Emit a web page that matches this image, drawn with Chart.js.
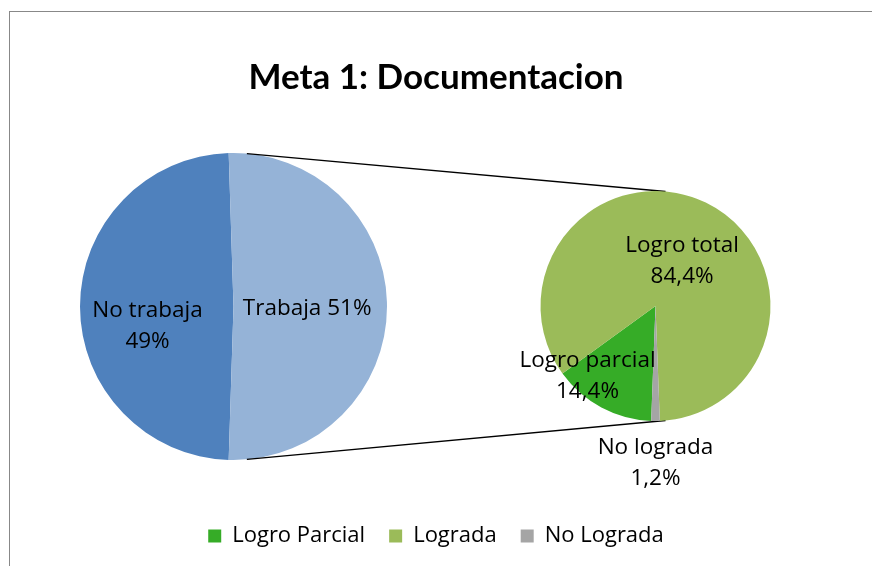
<!DOCTYPE html>
<html lang="es">
<head>
    <title>Meta 1: Documentacion</title>
    <meta charset="utf-8">
    <script src="https://cdn.jsdelivr.net/npm/chart.js"></script>
<style>
        body {
            margin: 0;
            background: white;
            overflow: hidden;
        }
        .frame {
            position: absolute;
            left: 9px;
            top: 11px;
            width: 900px;
            height: 600px;
            border: 1px solid #888888;
        }
        canvas {
            position: absolute;
            left: 0;
            top: 0;
        }
    </style>
</head>
<body>

    <div class="frame"></div>
    <canvas id="leftPie" width="872" height="566"></canvas>
    <canvas id="rightPie" width="872" height="566"></canvas>

    <script>
        // left pie: work status
        const leftNames = ['No trabaja', 'Trabaja'];
        const leftValues = [49, 51];
        const leftColors = ['#4F81BD', '#95B3D7'];

        // right pie: breakdown of "Trabaja"
        const rightLegend = ['Logro Parcial', 'Lograda', 'No Lograda'];
        const rightNames = ['Logro parcial', 'Logro total', 'No lograda'];
        const rightValues = [14.4, 84.4, 1.2];
        const rightColors = ['#36AC27', '#9BBB59', '#A5A5A5'];

        const TITLE_FONT = 'Lato, sans-serif';
        const FONT = '"Open Sans", sans-serif';

        function pct1(v) {
            return v.toFixed(1).replace('.', ',') + '%';
        }

        // puts the pie inside a given square of the canvas
        function placeArea(cx, cy, r) {
            return {
                id: 'placeArea',
                afterLayout(chart) {
                    Object.assign(chart.chartArea, {
                        left: cx - r, right: cx + r, top: cy - r, bottom: cy + r,
                        width: 2 * r, height: 2 * r
                    });
                }
            };
        }

        function sliceLabels(texts, places) {
            return {
                id: 'sliceLabels',
                afterDatasetsDraw(chart) {
                    const ctx = chart.ctx;
                    ctx.save();
                    ctx.font = '22.5px ' + FONT;
                    ctx.fillStyle = '#000';
                    ctx.textAlign = 'center';
                    ctx.textBaseline = 'middle';
                    chart.getDatasetMeta(0).data.forEach((arc, i) => {
                        const p = places[i];
                        const mid = (arc.startAngle + arc.endAngle) / 2;
                        const x = arc.x + Math.cos(mid) * arc.outerRadius * p.f + p.dx;
                        const y = arc.y + Math.sin(mid) * arc.outerRadius * p.f + p.dy;
                        const lines = texts[i];
                        lines.forEach((t, k) => {
                            ctx.fillText(t, x, y + (k - (lines.length - 1) / 2) * 31);
                        });
                    });
                    ctx.restore();
                }
            };
        }

        // start angles so the split slice faces right and "No lograda" sits at the bottom
        const leftRotation = 450 - (leftValues[0] + leftValues[1] / 2) * 3.6;
        const rightRotation = 540 - (rightValues[0] + rightValues[1] + rightValues[2] / 2) * 3.6;

        const leftChart = new Chart(document.getElementById('leftPie'), {
            type: 'pie',
            data: {
                labels: leftNames,
                datasets: [{
                    data: leftValues,
                    backgroundColor: leftColors,
                    borderWidth: 0
                }]
            },
            options: {
                responsive: false,
                animation: false,
                events: [],
                rotation: leftRotation,
                plugins: {
                    legend: { display: false },
                    tooltip: { enabled: false }
                }
            },
            plugins: [
                placeArea(233.5, 306.5, 153.5),
                sliceLabels(
                    [[leftNames[0], leftValues[0] + '%'], [leftNames[1] + ' ' + leftValues[1] + '%']],
                    [{ f: 0.56, dx: 0, dy: 20 }, { f: 0.48, dx: 0, dy: 2 }]
                )
            ]
        });

        const connectors = {
            id: 'connectors',
            beforeDatasetsDraw(chart) {
                const a = leftChart.getDatasetMeta(0).data[0];
                const b = chart.getDatasetMeta(0).data[0];
                const t = 5 * Math.PI / 180;
                const ctx = chart.ctx;
                ctx.save();
                ctx.strokeStyle = '#000';
                ctx.lineWidth = 1.4;
                [-1, 1].forEach(s => {
                    ctx.beginPath();
                    ctx.moveTo(a.x + a.outerRadius * Math.sin(t), a.y + s * a.outerRadius * Math.cos(t));
                    ctx.lineTo(b.x + b.outerRadius * Math.sin(t), b.y + s * b.outerRadius * Math.cos(t));
                    ctx.stroke();
                });
                ctx.restore();
            }
        };

        new Chart(document.getElementById('rightPie'), {
            type: 'pie',
            data: {
                labels: rightLegend,
                datasets: [{
                    data: rightValues,
                    backgroundColor: rightColors,
                    borderWidth: 0
                }]
            },
            options: {
                responsive: false,
                animation: false,
                events: [],
                rotation: rightRotation,
                plugins: {
                    title: {
                        display: true,
                        text: 'Meta 1: Documentacion',
                        color: '#000',
                        font: { family: TITLE_FONT, size: 35, weight: 'bold' },
                        padding: { top: 57, bottom: 20 }
                    },
                    legend: {
                        position: 'bottom',
                        labels: {
                            color: '#000',
                            font: { family: FONT, size: 22 },
                            boxWidth: 13,
                            boxHeight: 13,
                            padding: 24
                        }
                    },
                    tooltip: { enabled: false }
                },
                layout: { padding: { bottom: 9 } }
            },
            plugins: [
                placeArea(655.5, 306, 115),
                connectors,
                sliceLabels(
                    rightNames.map((n, i) => [n, pct1(rightValues[i])]),
                    [{ f: 0.85, dx: -22, dy: -16 }, { f: 0.45, dx: 4, dy: 2 }, { f: 1.37, dx: 0, dy: 0 }]
                )
            ]
        });
    </script>
</body>
</html>
